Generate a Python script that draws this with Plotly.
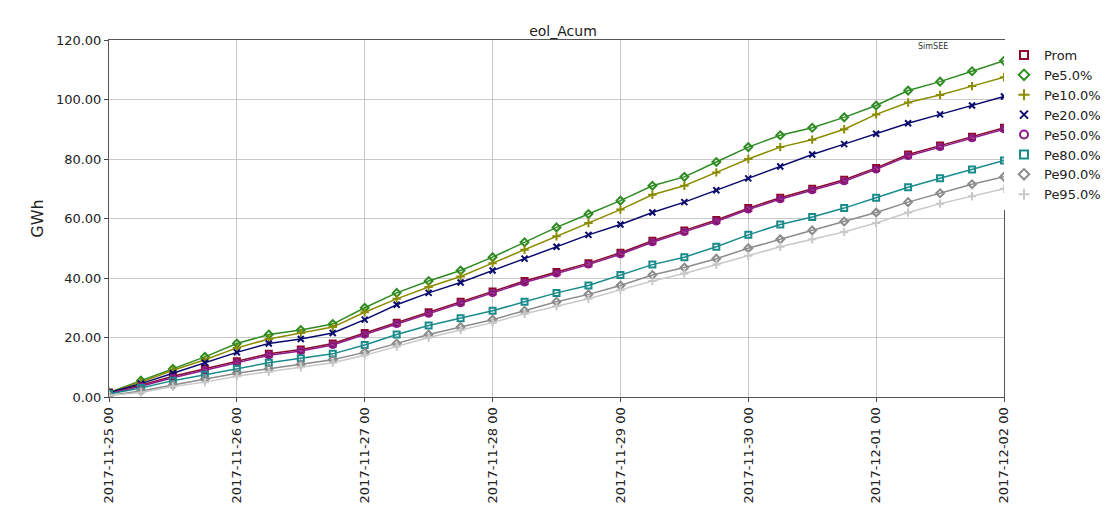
import pandas as pd
import plotly.graph_objects as go

# 6-hourly timestamps, 2017-11-25 00 to 2017-12-02 00
times = pd.date_range("2017-11-25 00:00", "2017-12-02 00:00", freq="6h")

prom = [1.5, 4, 7, 9.5, 12, 14.5, 16, 18, 21.5, 25, 28.5, 32, 35.5, 39, 42, 45, 48.5, 52.5, 56, 59.5, 63.5, 67, 70, 73, 77, 81.5, 84.5, 87.5, 90.5]
pe5 = [1.5, 5.5, 9.5, 13.5, 18, 21, 22.5, 24.5, 30, 35, 39, 42.5, 47, 52, 57, 61.5, 66, 71, 74, 79, 84, 88, 90.5, 94, 98, 103, 106, 109.5, 113]
pe10 = [1.5, 5, 9, 12.5, 16.5, 19.5, 21.5, 23.5, 28.5, 33, 37, 40.5, 45, 49.5, 54, 58.5, 63, 68, 71, 75.5, 80, 84, 86.5, 90, 95, 99, 101.5, 104.5, 107.5]
pe20 = [1.5, 4.5, 8, 11.5, 15, 18, 19.5, 21.5, 26, 31, 35, 38.5, 42.5, 46.5, 50.5, 54.5, 58, 62, 65.5, 69.5, 73.5, 77.5, 81.5, 85, 88.5, 92, 95, 98, 101]
pe50 = [1.2, 3.6, 6.5, 9, 11.5, 14, 15.5, 17.5, 21, 24.5, 28, 31.5, 35, 38.5, 41.5, 44.5, 48, 52, 55.5, 59, 63, 66.5, 69.5, 72.5, 76.5, 81, 84, 87, 90]
pe80 = [1, 3, 5.5, 7.5, 9.5, 11.5, 13, 14.5, 17.5, 21, 24, 26.5, 29, 32, 35, 37.5, 41, 44.5, 47, 50.5, 54.5, 58, 60.5, 63.5, 67, 70.5, 73.5, 76.5, 79.5]
pe90 = [0.5, 2, 4, 6, 8, 9.5, 11, 12.5, 15, 18, 21, 23.5, 26, 29, 32, 34.5, 37.5, 41, 43.5, 46.5, 50, 53, 56, 59, 62, 65.5, 68.5, 71.5, 74]
pe95 = [0.5, 1.5, 3.5, 5, 7, 8.5, 10, 11.5, 14, 17, 20, 22.5, 25, 28, 30.5, 33, 36, 39, 41.5, 44.5, 47.5, 50.5, 53, 55.5, 58.5, 62, 65, 67.5, 70]

series = [
    ("Prom", prom, "#8b0a2a", "square-open"),
    ("Pe5.0%", pe5, "#2e8b22", "diamond-open"),
    ("Pe10.0%", pe10, "#8b8b00", "cross-thin-open"),
    ("Pe20.0%", pe20, "#0a0a6e", "x-thin-open"),
    ("Pe50.0%", pe50, "#8b1a8b", "circle-open"),
    ("Pe80.0%", pe80, "#1a8b8b", "square-open"),
    ("Pe90.0%", pe90, "#8b8b8b", "diamond-open"),
    ("Pe95.0%", pe95, "#c8c8c8", "cross-thin-open"),
]

fig = go.Figure()
for name, vals, color, sym in series:
    fig.add_trace(go.Scatter(
        x=times, y=vals, name=name, mode="lines+markers", showlegend=False,
        line=dict(color=color, width=1.5),
        marker=dict(symbol=sym, size=6, color=color, line=dict(color=color, width=2)),
    ))
# legend entries: marker only
for name, vals, color, sym in series:
    fig.add_trace(go.Scatter(
        x=[None], y=[None], name=name, mode="markers",
        marker=dict(symbol=sym, size=8, color=color, line=dict(color=color, width=2)),
    ))

fig.update_layout(
    width=1110, height=520,
    title=dict(text="eol_Acum", x=0.5, y=0.965, font=dict(size=14, color="#222")),
    font=dict(family="DejaVu Sans", size=13, color="#222"),
    paper_bgcolor="white", plot_bgcolor="white",
    margin=dict(l=101, r=97, t=32, b=131),
    legend=dict(x=1.0, y=1.0, xanchor="left", yanchor="top", font=dict(size=13),
                tracegroupgap=0),
    xaxis=dict(
        range=[times[0], times[-1]], tickformat="%Y-%m-%d %H", dtick=86400000,
        tick0="2017-11-25", tickangle=-90, showgrid=True, gridcolor="#c8c8c8",
        showline=True, linecolor="#555", mirror=True, ticks="outside", ticklen=4,
    ),
    yaxis=dict(
        title=dict(text="GWh", standoff=8), range=[0, 120], dtick=20, tickformat=".2f",
        showgrid=True, gridcolor="#c8c8c8", showline=True, linecolor="#555",
        mirror=True, ticks="outside", ticklen=4, zeroline=False,
    ),
    annotations=[dict(text="SimSEE", x=0.94, y=1.0, xref="paper", yref="paper",
                      showarrow=False, font=dict(size=8, color="#333"), yanchor="top")],
)

fig.write_html("out.html")
